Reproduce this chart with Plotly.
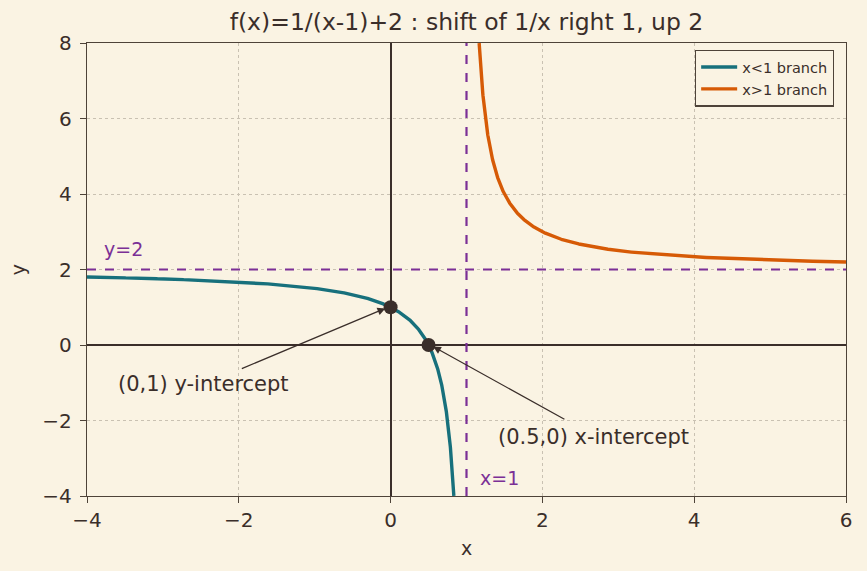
import numpy as np
import plotly.graph_objects as go

# function shown in the chart: f(x) = 1/(x-1) + 2
x_left = np.linspace(-4, 0.8333, 3000)
y_left = 1 / (x_left - 1) + 2
x_right = np.linspace(1.1667, 6, 3000)
y_right = 1 / (x_right - 1) + 2

points_x = [0, 0.5]
points_y = [1, 0]
asym_v = 1
asym_h = 2

BG = "#faf3e3"
INK = "#3a2e2a"
FRAME = "#4e4339"
TEAL = "#17707c"
ORANGE = "#d65a06"
PURPLE = "#7b2f96"
FONT = "DejaVu Sans"

fig = go.Figure()
fig.add_trace(go.Scatter(x=x_left, y=y_left, mode="lines", name="x<1 branch",
                         line=dict(color=TEAL, width=3.4)))
fig.add_trace(go.Scatter(x=x_right, y=y_right, mode="lines", name="x>1 branch",
                         line=dict(color=ORANGE, width=3.4)))

# asymptotes
fig.add_shape(type="line", x0=asym_v, x1=asym_v, y0=-4, y1=8, line=dict(color=PURPLE, width=2.2, dash="dash"))
fig.add_shape(type="line", x0=-4, x1=6, y0=asym_h, y1=asym_h, line=dict(color=PURPLE, width=2.2, dash="dash"))

fig.add_trace(go.Scatter(x=points_x, y=points_y, mode="markers", showlegend=False,
                         marker=dict(color=INK, size=14)))

annos = [
    dict(x=-3.8, y=2.55, text="y=2", showarrow=False, xanchor="left", yanchor="middle",
         font=dict(color=PURPLE, size=19, family=FONT)),
    dict(x=1.15, y=-3.52, text="x=1", showarrow=False, xanchor="left", yanchor="middle",
         font=dict(color=PURPLE, size=19, family=FONT)),
    dict(x=-2.46, y=-1.02, text="(0,1) y-intercept", showarrow=False,
         font=dict(color=INK, size=21, family=FONT)),
    dict(x=2.67, y=-2.45, text="(0.5,0) x-intercept", showarrow=False,
         font=dict(color=INK, size=21, family=FONT)),
    dict(x=-0.07, y=0.97, ax=-1.98, ay=-0.64, axref="x", ayref="y", xref="x", yref="y",
         text="", showarrow=True, arrowhead=2, arrowsize=1.2, arrowwidth=1.3, arrowcolor=INK),
    dict(x=0.56, y=-0.04, ax=2.31, ay=-1.99, axref="x", ayref="y", xref="x", yref="y",
         text="", showarrow=True, arrowhead=2, arrowsize=1.2, arrowwidth=1.3, arrowcolor=INK),
]
fig.update_layout(annotations=annos)

axis_common = dict(showline=True, mirror=True, linecolor=FRAME, linewidth=1.3,
                   ticks="outside", ticklen=6, tickcolor=FRAME, tickwidth=1.3,
                   showgrid=True, gridcolor="#c9c1b2", griddash="dot", gridwidth=1,
                   zeroline=True, zerolinecolor=INK, zerolinewidth=1.5,
                   title_font=dict(size=19, color=INK, family=FONT))
fig.update_xaxes(range=[-4, 6], dtick=2, title_text="x", title_standoff=10,
                 tickfont=dict(size=20, color=INK, family=FONT), **axis_common)
fig.update_yaxes(range=[-4, 8], dtick=2, title_text="y", title_standoff=11,
                 ticklabelstandoff=4,
                 tickfont=dict(size=20, color=INK, family=FONT), **axis_common)

fig.update_layout(
    width=867, height=571,
    paper_bgcolor=BG, plot_bgcolor=BG,
    margin=dict(l=87, r=21, t=43, b=75),
    title=dict(text="f(x)=1/(x-1)+2 : shift of 1/x right 1, up 2", x=0.5, xref="paper", xanchor="center",
               y=0.962, yanchor="middle", font=dict(size=23.5, color=INK, family=FONT)),
    font=dict(family=FONT, color=INK),
    legend=dict(x=0.984, y=0.985, xanchor="right", yanchor="top",
                bgcolor=BG, bordercolor=FRAME, borderwidth=1.3,
                font=dict(size=14.5, color=INK, family=FONT), itemwidth=36,
                tracegroupgap=0),
    showlegend=True,
)

fig.write_html("out.html")
